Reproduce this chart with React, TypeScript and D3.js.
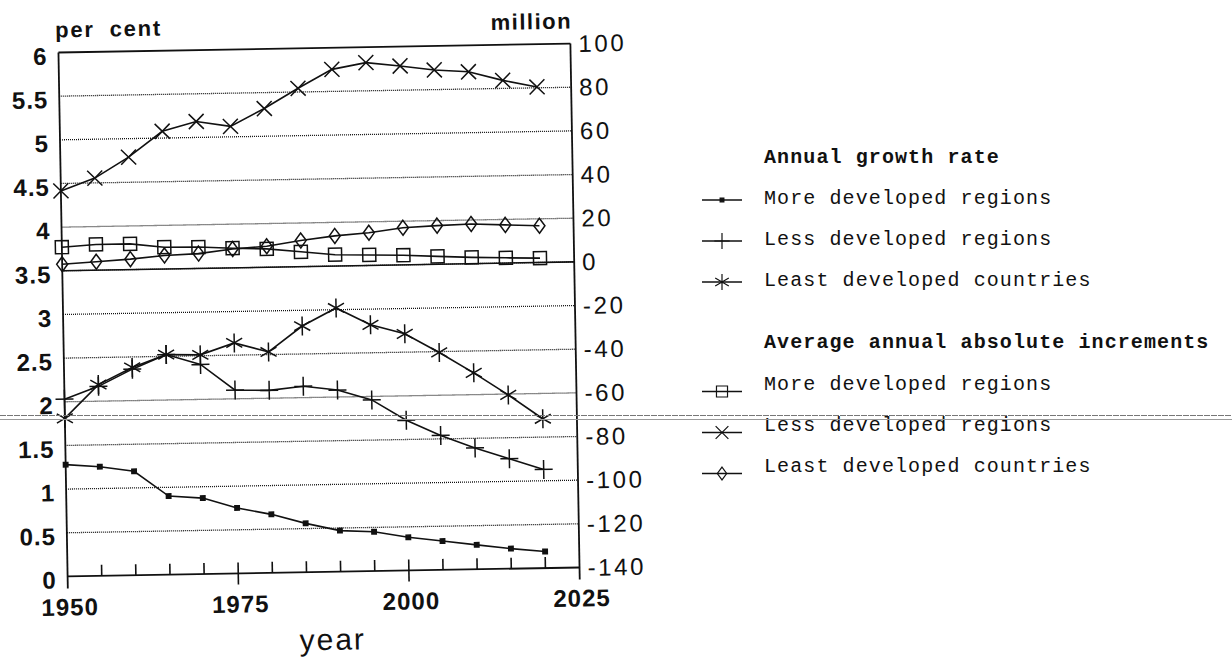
import React from "react";
import * as d3 from "d3";

const years = [1950, 1955, 1960, 1965, 1970, 1975, 1980, 1985, 1990, 1995, 2000, 2005, 2010, 2015, 2020];
// Annual growth rate (per cent, left axis)
const growthMore = [1.28, 1.25, 1.19, 0.9, 0.87, 0.75, 0.67, 0.56, 0.47, 0.45, 0.38, 0.33, 0.28, 0.23, 0.19];
const growthLess = [2.03, 2.17, 2.36, 2.52, 2.4, 2.1, 2.09, 2.13, 2.08, 1.96, 1.72, 1.54, 1.39, 1.26, 1.13];
const growthLeast = [1.81, 2.19, 2.38, 2.52, 2.51, 2.64, 2.53, 2.82, 3.02, 2.82, 2.71, 2.49, 2.25, 1.99, 1.71];
// Average annual absolute increments (million, right axis)
const incMore = [10.8, 11.8, 11.8, 10.0, 9.8, 9.0, 8.4, 6.8, 5.2, 4.8, 4.4, 3.6, 2.9, 2.4, 2.0];
const incLess = [36.6, 42.2, 51.5, 63.1, 67.3, 64.8, 72.7, 81.7, 90.1, 92.9, 91.1, 89.0, 87.9, 83.7, 80.4];
const incLeast = [3.0, 3.9, 4.8, 6.2, 6.8, 8.6, 9.6, 12.0, 13.8, 15.0, 17.0, 17.7, 18.2, 17.5, 16.8];

const xTickYears = [1950, 1955, 1960, 1965, 1970, 1975, 1980, 1985, 1990, 1995, 2000, 2005, 2010, 2015, 2020, 2025];
const xLabelYears = [1950, 1975, 2000, 2025];
const leftTicks = [0, 0.5, 1, 1.5, 2, 2.5, 3, 3.5, 4, 4.5, 5, 5.5, 6];
const rightTicks = [-140, -120, -100, -80, -60, -40, -20, 0, 20, 40, 60, 80, 100];

const legendGroup1Title = "Annual growth rate";
const legendGroup2Title = "Average annual absolute increments";
const regionNames = ["More developed regions", "Less developed regions", "Least developed countries"];

const W = 1232, H = 657;
const X0 = 63, X1 = 575, Y0 = 48, Y1 = 572;
const CX = 319, CY = 310;

const markers: Record<string, string> = {
  dot: "M-2.2,-2.2H2.2V2.2H-2.2Z",
  plus: "M-9,0H9M0,-9.5V9.5",
  star: "M0,-9.5V9.5M-8,-4.6L8,4.6M-8,4.6L8,-4.6",
  square: "M-6.5,-6.5H6.5V6.5H-6.5Z",
  cross: "M-7.5,-7.5L7.5,7.5M-7.5,7.5L7.5,-7.5",
  diamond: "M0,-7.5L5.5,0L0,7.5L-5.5,0Z",
};

export default function App() {
  const x = d3.scaleLinear().domain([1950, 2025]).range([X0, X1]);
  const yL = d3.scaleLinear().domain([0, 6]).range([Y1, Y0]);
  const yR = d3.scaleLinear().domain([-140, 100]).range([Y1, Y0]);

  const series = [
    { vals: growthMore, y: yL, m: "dot", fill: "#111" },
    { vals: growthLess, y: yL, m: "plus", fill: "none" },
    { vals: growthLeast, y: yL, m: "star", fill: "none" },
    { vals: incMore, y: yR, m: "square", fill: "none" },
    { vals: incLess, y: yR, m: "cross", fill: "none" },
    { vals: incLeast, y: yR, m: "diamond", fill: "none" },
  ];

  const sans = "'Liberation Sans', Arial, Helvetica, sans-serif";
  const mono = "'Courier New', 'Liberation Mono', monospace";
  const ink = "#111";

  const legendRows = [
    ...regionNames.map((n, i) => ({ name: n, m: series[i].m, fill: series[i].fill, base: 204 + i * 41, off: -4 })),
    ...regionNames.map((n, i) => ({ name: n, m: series[i + 3].m, fill: series[i + 3].fill, base: 389.5 + i * 41, off: 2 })),
  ];

  return (
    <svg width={W} height={H} style={{ position: "absolute", left: 0, top: 0, background: "#fff" }}>
      <rect x={0} y={0} width={W} height={H} fill="#fff" />
      <g transform={`rotate(-1, ${CX}, ${CY})`}>
        {/* gridlines */}
        {leftTicks.filter((t) => t > 0 && t < 6).map((t) => (
          <line key={"g" + t} x1={X0} x2={X1} y1={yL(t)} y2={yL(t)} stroke="#111" strokeWidth={1.3} strokeDasharray="1,1" />
        ))}
        {/* right axis zero line */}
        <line x1={X0} x2={X1} y1={yR(0)} y2={yR(0)} stroke={ink} strokeWidth={1.6} />
        {/* frame */}
        <line x1={X0} x2={X1} y1={Y0} y2={Y0} stroke={ink} strokeWidth={1.8} />
        <line x1={X0} x2={X1} y1={Y1} y2={Y1} stroke={ink} strokeWidth={1.8} />
        <line x1={X0} x2={X0} y1={Y0} y2={Y1 + 12} stroke={ink} strokeWidth={1.8} />
        <line x1={X1} x2={X1} y1={Y0} y2={Y1 + 12} stroke={ink} strokeWidth={1.8} />
        {/* x ticks */}
        {xTickYears.filter((yr) => yr > 1950 && yr < 2025).map((yr) => {
          const major = yr % 25 === 0;
          return (
            <line key={"t" + yr} x1={x(yr)} x2={x(yr)} y1={Y1 - 11} y2={major ? Y1 + 11 : Y1} stroke={ink} strokeWidth={1.6} />
          );
        })}
        {/* series lines & markers */}
        {series.map((s, si) => {
          const line = d3.line<number>().x((_, i) => x(years[i])).y((v) => s.y(v));
          return (
            <g key={"s" + si}>
              <path d={line(s.vals) || ""} fill="none" stroke={ink} strokeWidth={1.6} />
              {s.vals.map((v, i) => (
                <path key={i} d={markers[s.m]} transform={`translate(${x(years[i])},${s.y(v)})`} fill={s.fill} stroke={ink} strokeWidth={1.5} />
              ))}
            </g>
          );
        })}
        {/* left tick labels */}
        {leftTicks.map((t) => (
          <text key={"l" + t} x={X0 - 11} y={yL(t) + 12} textAnchor="end" fontFamily={sans} fontWeight="bold" fontSize={24} letterSpacing={1} fill={ink}>
            {d3.format("")(t)}
          </text>
        ))}
        {/* right tick labels */}
        {rightTicks.map((t) => (
          <text key={"r" + t} x={X1 + 8} y={yR(t) + 8.5} textAnchor="start" fontFamily={sans} fontSize={24} letterSpacing={2.6} fill={ink}>
            {t < 0 ? "-" + Math.abs(t) : String(t)}
          </text>
        ))}
        {/* x labels */}
        {xLabelYears.map((yr) => (
          <text key={"x" + yr} x={x(yr) + 2} y={Y1 + 39} textAnchor="middle" fontFamily={sans} fontWeight="bold" fontSize={24} letterSpacing={1} fill={ink}>
            {yr}
          </text>
        ))}
        <text x={60} y={33} fontFamily={sans} fontWeight="bold" fontSize={22} letterSpacing={1.8} wordSpacing={7} fill={ink}>per cent</text>
        <text x={577} y={33} textAnchor="end" fontFamily={sans} fontWeight="bold" fontSize={22} letterSpacing={1.5} fill={ink}>million</text>
        <text x={327} y={650} textAnchor="middle" fontFamily={sans} fontSize={30} letterSpacing={2} fill={ink}>year</text>
      </g>
      {/* legend */}
      <text x={764} y={163.3} fontFamily={mono} fontWeight="bold" fontSize={20} letterSpacing={1.1} fill={ink}>{legendGroup1Title}</text>
      <text x={764} y={348.3} fontFamily={mono} fontWeight="bold" fontSize={20} letterSpacing={1.1} fill={ink}>{legendGroup2Title}</text>
      {legendRows.map((r, i) => (
        <g key={"lg" + i}>
          <line x1={702} x2={742} y1={r.base + r.off} y2={r.base + r.off} stroke={ink} strokeWidth={1.4} />
          <path d={markers[r.m]} transform={`translate(722,${r.base + r.off}) scale(0.85)`} fill={r.fill} stroke={ink} strokeWidth={1.4} />
          <text x={764} y={r.base} fontFamily={mono} fontSize={20} letterSpacing={1.1} fill={ink}>{r.name}</text>
        </g>
      ))}
      {/* scan artifact lines */}
      <line x1={0} x2={W} y1={415.5} y2={415.5} stroke="#777" strokeWidth={1.2} strokeDasharray="6,1" />
      <line x1={0} x2={W} y1={419.5} y2={419.5} stroke="#9a9a9a" strokeWidth={1} />
    </svg>
  );
}
